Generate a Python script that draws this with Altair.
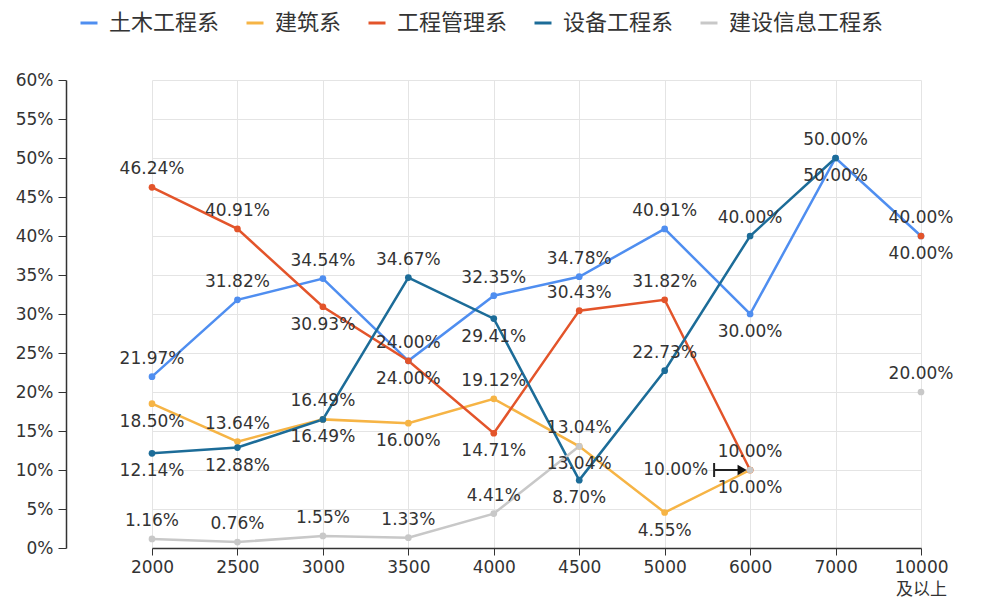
import altair as alt
import pandas as pd

categories = ["2000", "2500", "3000", "3500", "4000", "4500", "5000", "6000", "7000", "10000 及以上"]
series_names = ["土木工程系", "建筑系", "工程管理系", "设备工程系", "建设信息工程系"]

civil = [21.97, 31.82, 34.54, 24.00, 32.35, 34.78, 40.91, 30.00, 50.00, 40.00]
arch = [18.50, 13.64, 16.49, 16.00, 19.12, 13.04, 4.55, 10.00, None, None]
mgmt = [46.24, 40.91, 30.93, 24.00, 14.71, 30.43, 31.82, 10.00, None, 40.00]
equip = [12.14, 12.88, 16.49, 34.67, 29.41, 8.70, 22.73, 40.00, 50.00, None]
info = [1.16, 0.76, 1.55, 1.33, 4.41, 13.04, None, 10.00, None, 20.00]

colors = ["#4f8ef0", "#f6b445", "#e3542a", "#1c6c98", "#c8c8c8"]

# label placement (t = above, b = below, l = left with arrow)
label_side = {
    "土木工程系": ["t", "t", "t", "t", "t", "t", "t", "b", "t", "t"],
    "建筑系": ["b", "t", "t", "b", "t", "t", "b", "b", None, None],
    "工程管理系": ["t", "t", "b", "b", "b", "t", "t", "t", None, "b"],
    "设备工程系": ["b", "b", "b", "t", "b", "b", "t", "t", "b", None],
    "建设信息工程系": ["t", "t", "t", "t", "t", "b", None, "l", None, "t"],
}

values = dict(zip(series_names, [civil, arch, mgmt, equip, info]))
rows = []
for s in series_names:
    seg = 0
    for i, (c, v) in enumerate(zip(categories, values[s])):
        if v is None:
            seg += 1
            continue
        rows.append({"series": s, "cat": c, "v": v, "seg": f"{s}-{seg}",
                     "side": label_side[s][i]})
df = pd.DataFrame(rows)

FONT = "DejaVu Sans, 'Noto Sans CJK SC'"

x = alt.X("cat:N", sort=categories,
          scale=alt.Scale(type="point", domain=categories, range=[86, 855], padding=0),
          axis=alt.Axis(title=None, labelAngle=0, labelExpr="split(datum.label, ' ')",
                        grid=True, tickSize=7, labelPadding=4, labelLineHeight=22,
                        labelFontSize=17, labelFont=FONT))
y = alt.Y("v:Q", scale=alt.Scale(domain=[0, 60], nice=False),
          axis=alt.Axis(title=None, values=list(range(0, 65, 5)),
                        labelExpr="datum.value + '%'", tickSize=8, labelPadding=5,
                        labelFontSize=17, labelFont=FONT))
color = alt.Color("series:N", scale=alt.Scale(domain=series_names, range=colors),
                  legend=alt.Legend(title=None, orient="none", legendX=12, legendY=-68,
                                    direction="horizontal", columns=5, gridAlign="none",
                                    symbolType="stroke", symbolSize=289,
                                    symbolStrokeWidth=3, labelFontSize=22,
                                    labelFont="Noto Sans CJK SC", labelColor="#333",
                                    labelLimit=400, labelOffset=9, columnPadding=20,
                                    padding=0))

base = alt.Chart(df)

lines = base.mark_line(strokeWidth=2.5).encode(x=x, y=y, color=color, detail="seg:N")
points = base.mark_point(filled=True, size=45, opacity=1).encode(
    x=x, y=y, color=alt.Color("series:N", scale=alt.Scale(domain=series_names, range=colors), legend=None))

lab = base.transform_calculate(label="format(datum.v, '.2f') + '%'")
txt_style = dict(fontSize=17, font="DejaVu Sans", color="#333")
top = lab.transform_filter("datum.side == 't'").mark_text(dy=-18, **txt_style).encode(
    x=x, y=y, text="label:N")
bot = lab.transform_filter("datum.side == 'b'").mark_text(dy=18, **txt_style).encode(
    x=x, y=y, text="label:N")
left = lab.transform_filter("datum.side == 'l'").mark_text(dx=-42, align="right", **txt_style).encode(
    x=x, y=y, text="label:N")

arr = base.transform_filter("datum.side == 'l'")
arrow_line = arr.mark_rule(color="#222", strokeWidth=2, xOffset=-36, x2Offset=-10).encode(
    x=x, x2=alt.X2("cat"), y=y)
arrow_bar = arr.mark_rule(color="#222", strokeWidth=2, xOffset=-36, yOffset=-7, y2Offset=7).encode(
    x=x, y=y, y2=alt.Y2("v"))
arrow_head = arr.mark_point(shape="triangle-right", filled=True, color="#111", size=110,
                            opacity=1, xOffset=-8).encode(x=x, y=y)

chart = alt.layer(lines, points, top, bot, left, arrow_line, arrow_bar, arrow_head).properties(
    width=924, height=468,
    autosize=alt.AutoSizeParams(type="none"),
    padding={"left": 58, "top": 72, "right": 0, "bottom": 50},
).configure_view(stroke=None).configure_axis(
    gridColor="#e4e4e4", domainColor="#333", tickColor="#333", labelColor="#333",
    domainWidth=1.5,
)

chart.save("out.html", embed_options={"renderer": "svg", "actions": False})
